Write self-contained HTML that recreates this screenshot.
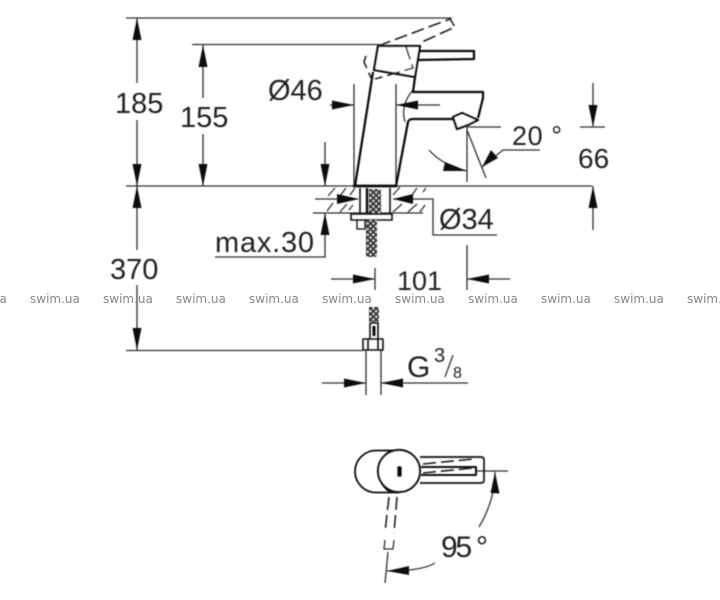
<!DOCTYPE html>
<html><head><meta charset="utf-8"><style>
html,body{margin:0;padding:0;background:#fff}
svg{display:block;position:absolute;left:0;top:0}
text{font-family:"Liberation Sans",sans-serif;fill:#222}
.w{font-family:"DejaVu Sans",sans-serif;font-size:12px;fill:#888}
</style></head><body>
<svg width="720" height="600" viewBox="0 0 720 600" xmlns="http://www.w3.org/2000/svg">
<defs><pattern id="ck" width="4" height="4" patternUnits="userSpaceOnUse" patternTransform="rotate(45)"><rect width="4" height="4" fill="#333"/><rect x="1" y="1" width="2" height="2" fill="#ddd"/></pattern>
<filter id="b"><feGaussianBlur stdDeviation="0.4"/></filter></defs>
<g filter="url(#b)">
<!-- thin dim lines -->
<g stroke="#333" stroke-width="1.3" fill="none">
<path d="M126 18H452M192 44.5H380M126 186H592M126 350.5H363"/>
<path d="M137 18V83M137 120V186M137 186V250M137 285V350"/>
<path d="M203 44.5V98M203 134V186"/>
<path d="M330 105H354M354 84V186M396 84V186M396 105H440"/>
<path d="M413 90Q400 105 405 122" />
<path d="M325 142V186M325 213V257H215"/>
<path d="M467 127H501M467 127V182M467 130L486 178M580 127H605"/>
<path d="M593 83V127M593 186V230"/>
<path d="M482 167L503 150H540"/>
<path d="M429 150Q442 165 467 171"/>
<path d="M315 199H358M393 199H433V235H497"/>
<path d="M313 213H423"/>
<path d="M375 268V290M331 279H375M467 245V290M467 279H510"/>
<path d="M322 383H366M381 383H468M366 350V395M381 350V395"/>
<path d="M476 471H508M495 472Q495 500 479 527M435 563Q422 571 387 571M388 552L385 583"/>
<path d="M445 377L453 355"/>
<!-- hatch -->
<path d="M328 196l7-8M340 196l6-8M350 195l5-7M327 211l6-8M340 212l7-8M349 210l4-5M393 195l7-8M412 195l5-7M423 192l3-4M393 212l9-8M408 212l9-8M420 212l5-7"/>
</g>
<!-- arrowheads -->
<g fill="#111">
<path d="M137 18l-4.500 22h9zM137 186l-4.500-22h9zM137 186l-4.500 22h9zM137 350l-4.500-22h9z"/>
<path d="M203 45l-4.500 22h9zM203 186l-4.500-22h9z"/>
<path d="M354 105l-22-4.500v9zM396 105l22-4.500v9z"/>
<path d="M325 186l-4.500-22h9zM325 213l-4.500 22h9z"/>
<path d="M593 127l-4.500-22h9zM593 186l-4.500 22h9z"/>
<path d="M482 167l9-17 7 8zM467 171l-22-9-2 9z"/>
<path d="M359 199l-22-5v10zM393 199l20-5v10z"/>
<path d="M375 279l-22-4.500v9zM467 279l22-4.500v9z"/>
<path d="M366 383l-22-4.500v9zM381 383l22-4.500v9z"/>
<path d="M495 472l-4.500 21 9 .5zM387 571l22-5v9z"/>
</g>
<!-- faucet -->
<g stroke="#111" stroke-width="2.300" fill="none" stroke-linejoin="round">
<path d="M355 186L373 72M396 186L408 122Q409 119 413 119H453M415 77L413 92H483V98L478 118"/>
<path d="M378 46H420L415 77L374 70Z" fill="#fff"/>
<path d="M420 51H474V59L418 60"/>
<path d="M453 117L462 113L478 120L468 125L457 129Z" fill="#fff"/>
<path d="M353 186H397" stroke-width="2.800"/>
<!-- base -->
<path d="M360 188V213M390 188V213M351 214H392V220H351Z" stroke-width="1.600"/>
<path d="M367 188V213" stroke-width="2.500"/>
<path d="M357 220V229H365V220" stroke-width="1.300"/>
<path d="M363 339H383V350H363ZM368 339V350M378 339V350M370 323H378V339H370Z" stroke-width="1.600"/>
<path d="M374 326V336" stroke-width="3"/>
<!-- top view -->
<path d="M399 450.500H376A21 21 0 0 0 376 492.500H399" stroke-width="1.800"/>
<path d="M391 450.500A24 24 0 0 0 391 492.500" stroke-width="1.600"/>
<circle cx="399" cy="471" r="21" fill="#fff" stroke-width="2.200"/>
<path d="M420 457H481Q484 457 484 460V480Q484 483 481 483H420" stroke-width="1.700"/>
<path d="M421 467H476V475H421" stroke-width="2"/>
</g>
<rect x="397" y="466" width="5" height="11" rx="2" fill="#111"/>
<rect x="369" y="189" width="12" height="24" rx="1" fill="url(#ck)"/>
<rect x="366" y="220" width="11" height="37" rx="2" fill="url(#ck)"/>
<rect x="369" y="307" width="10" height="15" fill="url(#ck)"/>
<!-- dashes -->
<g stroke="#222" stroke-width="1.600" fill="none" stroke-dasharray="13 5">
<path d="M378 46L450 19L455 27L422 42"/>
<path d="M406 47L413 68L375 79"/>
<path d="M366 56L364 62L372 80"/>
<path d="M423 464L473 459M423 473L473 468"/>
<path d="M389 497L385 532M397 497L394 533"/>
</g>
<path d="M385 540L384 549H393L394 540" stroke="#222" stroke-width="1.200" fill="none"/>
<!-- labels -->
<text x="115" y="113" font-size="29">185</text>
<text x="180" y="127" font-size="29">155</text>
<text x="268" y="100" font-size="29">Ø46</text>
<text x="512" y="145" font-size="27" textLength="50">20 °</text>
<text x="578" y="168" font-size="28">66</text>
<text x="439" y="229" font-size="29">Ø34</text>
<text x="215" y="252" font-size="29" textLength="99" lengthAdjust="spacing">max.30</text>
<text x="110" y="279" font-size="29">370</text>
<text x="397" y="290" font-size="27">101</text>
<text x="407" y="377" font-size="30">G</text>
<text x="434" y="362" font-size="20">3</text>
<text x="453" y="378" font-size="16">8</text>
<text x="441" y="557" font-size="30" textLength="47">95 °</text>
</g>
<g>
<text class="w" x="-43" y="303">swim.ua</text>
<text class="w" x="30" y="303">swim.ua</text>
<text class="w" x="103" y="303">swim.ua</text>
<text class="w" x="176" y="303">swim.ua</text>
<text class="w" x="249" y="303">swim.ua</text>
<text class="w" x="322" y="303">swim.ua</text>
<text class="w" x="395" y="303">swim.ua</text>
<text class="w" x="468" y="303">swim.ua</text>
<text class="w" x="541" y="303">swim.ua</text>
<text class="w" x="614" y="303">swim.ua</text>
<text class="w" x="687" y="303">swim.ua</text>
</g>
</svg>
</body></html>
